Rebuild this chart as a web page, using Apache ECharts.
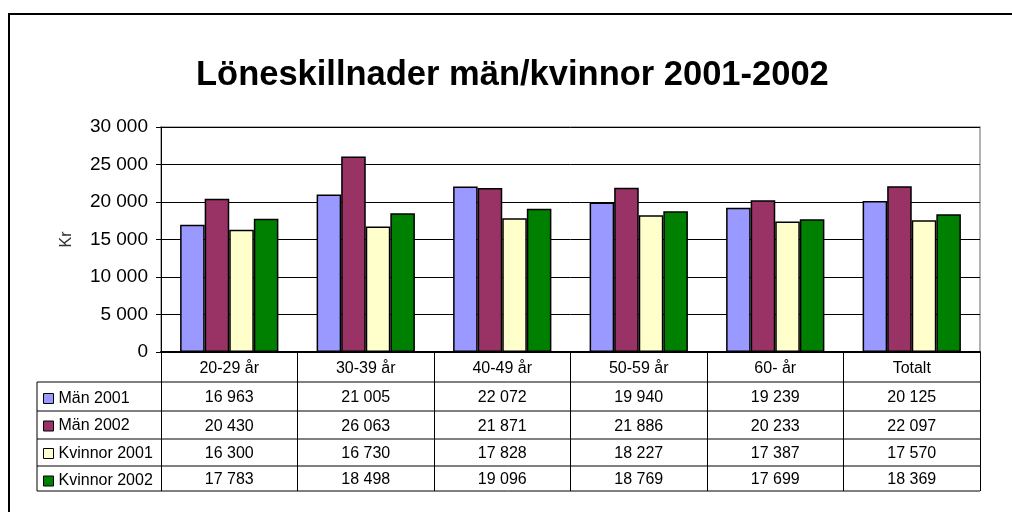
<!DOCTYPE html>
<html>
<head>
<meta charset="utf-8">
<script src="https://cdn.jsdelivr.net/npm/echarts@6/dist/echarts.min.js"></script>
<style>
  html, body { margin: 0; padding: 0; background: #fff; }
  #chart { width: 1012px; height: 512px; }
</style>
</head>
<body>
<div id="chart"></div>
<script>
const categories = ['20-29 år', '30-39 år', '40-49 år', '50-59 år', '60- år', 'Totalt'];
const seriesNames = ['Män 2001', 'Män 2002', 'Kvinnor 2001', 'Kvinnor 2002'];
const man2001 = [16963, 21005, 22072, 19940, 19239, 20125];
const man2002 = [20430, 26063, 21871, 21886, 20233, 22097];
const kvinnor2001 = [16300, 16730, 17828, 18227, 17387, 17570];
const kvinnor2002 = [17783, 18498, 19096, 18769, 17699, 18369];
const colors = ['#9999FF', '#993366', '#FFFFCC', '#008000'];
const yTicks = [0, 5000, 10000, 15000, 20000, 25000, 30000];

const allValues = [man2001, man2002, kvinnor2001, kvinnor2002];
const font = 'Arial, "Liberation Sans", sans-serif';

// swedish style thousands separator
function fmt(v) {
    return String(v).replace(/\B(?=(\d{3})+(?!\d))/g, ' ');
}

// table rows are extra category axes sharing the grid, only labels shown
const rowMargins = [38, 66.5, 94, 120];
const tableAxes = allValues.map((vals, i) => ({
    type: 'category',
    gridIndex: 0,
    position: 'bottom',
    data: vals.map(fmt),
    axisLine: { show: false },
    axisTick: { show: false },
    splitLine: { show: false },
    axisLabel: {
        margin: rowMargins[i],
        fontFamily: font,
        fontSize: 16,
        color: '#000',
        interval: 0
    }
}));

const chart = echarts.init(document.getElementById('chart'));

const tableTop = 382;
const rowYs = [382, 411, 439, 466, 491];
const graphics = [
    {
        type: 'rect',
        shape: { x: 9, y: 14, width: 1020, height: 520 },
        style: { fill: 'none', stroke: '#000', lineWidth: 2 },
        silent: true
    },
    {
        type: 'line',
        shape: { x1: 37, y1: tableTop, x2: 37, y2: 491 },
        style: { stroke: '#000', lineWidth: 1 }
    }
];
rowYs.forEach(y => {
    graphics.push({
        type: 'line',
        shape: { x1: 37, y1: y, x2: 980, y2: y },
        style: { stroke: '#000', lineWidth: 1 }
    });
});

const option = {
    backgroundColor: '#fff',
    animation: false,
    title: {
        text: 'Löneskillnader män/kvinnor 2001-2002',
        left: 191,
        top: 53,
        textStyle: { fontFamily: font, fontSize: 34.5, fontWeight: 'bold', color: '#000' }
    },
    legend: {
        orient: 'vertical',
        left: 43,
        top: 390.5,
        padding: 0,
        icon: 'rect',
        itemWidth: 10,
        itemHeight: 10,
        itemGap: 11.5,
        data: seriesNames,
        textStyle: { fontFamily: font, fontSize: 16, color: '#000' },
        itemStyle: { borderColor: '#000', borderWidth: 1 }
    },
    grid: {
        left: 161,
        right: 32,
        top: 127,
        bottom: 160,
        show: true,
        borderColor: '#999',
        borderWidth: 1.5
    },
    xAxis: [
        {
            type: 'category',
            data: categories,
            axisLine: { lineStyle: { color: '#000', width: 2 } },
            axisTick: { show: true, length: 139, lineStyle: { color: '#000', width: 1 } },
            axisLabel: { margin: 8.5, fontFamily: font, fontSize: 16, color: '#000' }
        }
    ].concat(tableAxes),
    yAxis: {
        type: 'value',
        min: yTicks[0],
        max: yTicks[yTicks.length - 1],
        interval: 5000,
        name: 'Kr',
        nameLocation: 'middle',
        nameRotate: 90,
        nameGap: 86,
        nameTextStyle: { fontFamily: font, fontSize: 16, color: '#333' },
        axisLine: { show: true, lineStyle: { color: '#000', width: 1 } },
        axisTick: { show: true, length: 5, lineStyle: { color: '#000' } },
        splitLine: { lineStyle: { color: '#000', width: 1 } },
        axisLabel: {
            margin: 13,
            fontFamily: font,
            fontSize: 19,
            color: '#000',
            formatter: v => fmt(v)
        }
    },
    series: seriesNames.map((name, i) => ({
        name: name,
        type: 'bar',
        data: allValues[i],
        barGap: '0%',
        barCategoryGap: '28%',
        itemStyle: { color: colors[i], borderColor: '#000', borderWidth: 1.5 }
    })),
    graphic: graphics
};

chart.setOption(option);
</script>
</body>
</html>
